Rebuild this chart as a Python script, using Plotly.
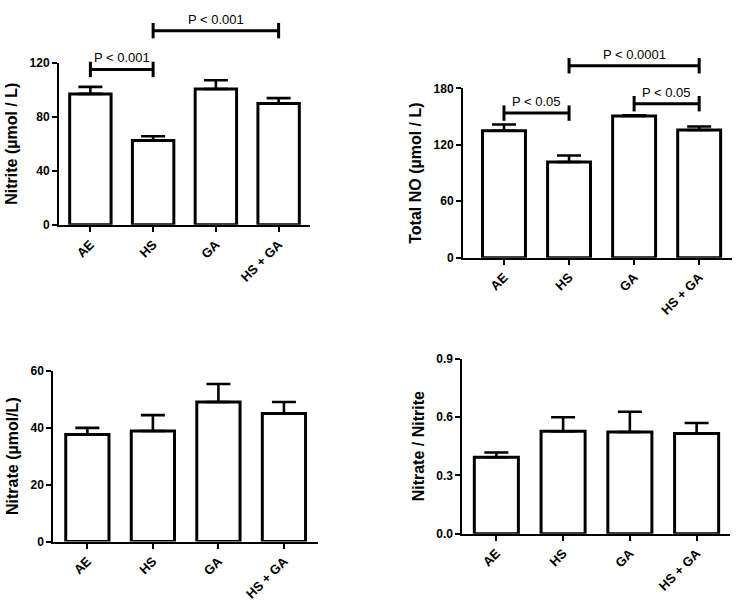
import plotly.graph_objects as go

W, H = 741, 603

categories = ["AE", "HS", "GA", "HS + GA"]

nitrite = [96.9, 62.4, 100.5, 89.7]
nitrite_err = [5.2, 3.2, 6.5, 4.1]

total_no = [135.0, 101.8, 150.6, 135.7]
total_no_err = [6.6, 6.9, 0.8, 3.8]

nitrate = [37.6, 38.8, 49.0, 45.0]
nitrate_err = [2.3, 5.6, 6.3, 4.0]

ratio = [0.393, 0.527, 0.523, 0.515]
ratio_err = [0.025, 0.072, 0.104, 0.054]

# significance brackets: (from, to, y, label)
nitrite_brackets = [("AE", "HS", 115.0, "P < 0.001"), ("HS", "HS + GA", 143.7, "P < 0.001")]
total_no_brackets = [("AE", "HS", 153.7, "P < 0.05"), ("GA", "HS + GA", 163.7, "P < 0.05"),
                     ("HS", "HS + GA", 204.0, "P < 0.0001")]

# layout of the four panels in pixels
panels = [
    dict(x0=59, x1=310, yt=57, yb=223, xr=[-0.5, 3.5], ymax=120, dtick=40,
         title="Nitrite (µmol / L)", vals=nitrite, err=nitrite_err, br=nitrite_brackets, fmt=None),
    dict(x0=463, x1=731.7, yt=83.3, yb=256.7, xr=[-0.63, 3.5], ymax=180, dtick=60,
         title="Total NO (µmol / L)", vals=total_no, err=total_no_err, br=total_no_brackets, fmt=None),
    dict(x0=53.3, x1=318, yt=372.3, yb=547.3, xr=[-0.52, 3.52], ymax=60, dtick=20,
         title="Nitrate (µmol/L)", vals=nitrate, err=nitrate_err, br=[], fmt=None),
    dict(x0=462.3, x1=730, yt=360, yb=539.3, xr=[-0.51, 3.5], ymax=0.9, dtick=0.3,
         title="Nitrate / Nitrite", vals=ratio, err=ratio_err, br=[], fmt=".1f"),
]

FONT = "Liberation Sans, Arial, sans-serif"
fig = go.Figure()
layout = {}
cat_idx = {c: i for i, c in enumerate(categories)}

extra = 5
for i, p in enumerate(panels, start=1):
    xa = f"xaxis{i}" if i > 1 else "xaxis"
    ya = f"yaxis{i}" if i > 1 else "yaxis"
    xr_ = f"x{i}" if i > 1 else "x"
    yr_ = f"y{i}" if i > 1 else "y"
    xs = list(range(len(categories)))
    fig.add_trace(go.Bar(
        x=xs, y=p["vals"], xaxis=xr_, yaxis=yr_, width=0.66,
        marker=dict(color="white", line=dict(color="black", width=3)),
        error_y=dict(type="data", array=p["err"], arrayminus=[0] * 4, symmetric=False,
                     color="black", thickness=2.6, width=12),
        showlegend=False, hoverinfo="skip"))
    layout[xa] = dict(
        domain=[p["x0"] / W, p["x1"] / W], range=p["xr"], anchor=yr_,
        tickmode="array", tickvals=xs, ticktext=categories, tickangle=-45,
        showline=True, linecolor="black", linewidth=2, ticks="outside", ticklen=5,
        tickwidth=2, tickcolor="black", showgrid=False, zeroline=False,
        tickfont=dict(family=FONT, size=13, color="black", weight="bold"))
    ytick = dict(tickformat=p["fmt"]) if p["fmt"] else {}
    layout[ya] = dict(
        domain=[1 - p["yb"] / H, 1 - p["yt"] / H], range=[0, p["ymax"]], anchor=xr_,
        dtick=p["dtick"], tick0=0, showline=True, linecolor="black", linewidth=2,
        ticks="outside", ticklen=5, tickwidth=2, tickcolor="black",
        showgrid=False, zeroline=False,
        tickfont=dict(family=FONT, size=12, color="black", weight="bold"),
        title=dict(text=p["title"], standoff=8,
                   font=dict(family=FONT, size=16, color="black", weight="bold")),
        **ytick)
    if p["br"]:
        # invisible overlay axis with the same scale, extended to the top of the figure
        k = len(panels) + extra
        extra += 1
        ov = f"yaxis{k}"
        ovr = f"y{k}"
        scale_top = p["ymax"] * p["yb"] / (p["yb"] - p["yt"])
        layout[ov] = dict(domain=[1 - p["yb"] / H, 1], range=[0, scale_top],
                          anchor=xr_, visible=False)
        for a, b, yv, lab in p["br"]:
            xa_, xb_ = cat_idx[a], cat_idx[b]
            fig.add_trace(go.Scatter(
                x=[xa_, xb_], y=[yv, yv], xaxis=xr_, yaxis=ovr, mode="lines+markers",
                line=dict(color="black", width=3),
                marker=dict(symbol="line-ns-open", size=11, line=dict(color="black", width=3)),
                cliponaxis=False, showlegend=False, hoverinfo="skip"))
            fig.add_annotation(x=(xa_ + xb_) / 2, y=yv, xref=xr_, yref=ovr, text=lab,
                               showarrow=False, yanchor="bottom", yshift=2,
                               font=dict(family=FONT, size=13, color="black"))

fig.update_layout(
    width=W, height=H, margin=dict(l=0, r=0, t=0, b=0),
    paper_bgcolor="white", plot_bgcolor="rgba(0,0,0,0)", **layout)

fig.write_html("out.html", config={"displayModeBar": False, "staticPlot": True},
               post_script="document.body.style.margin='0';document.body.style.overflow='hidden';")
